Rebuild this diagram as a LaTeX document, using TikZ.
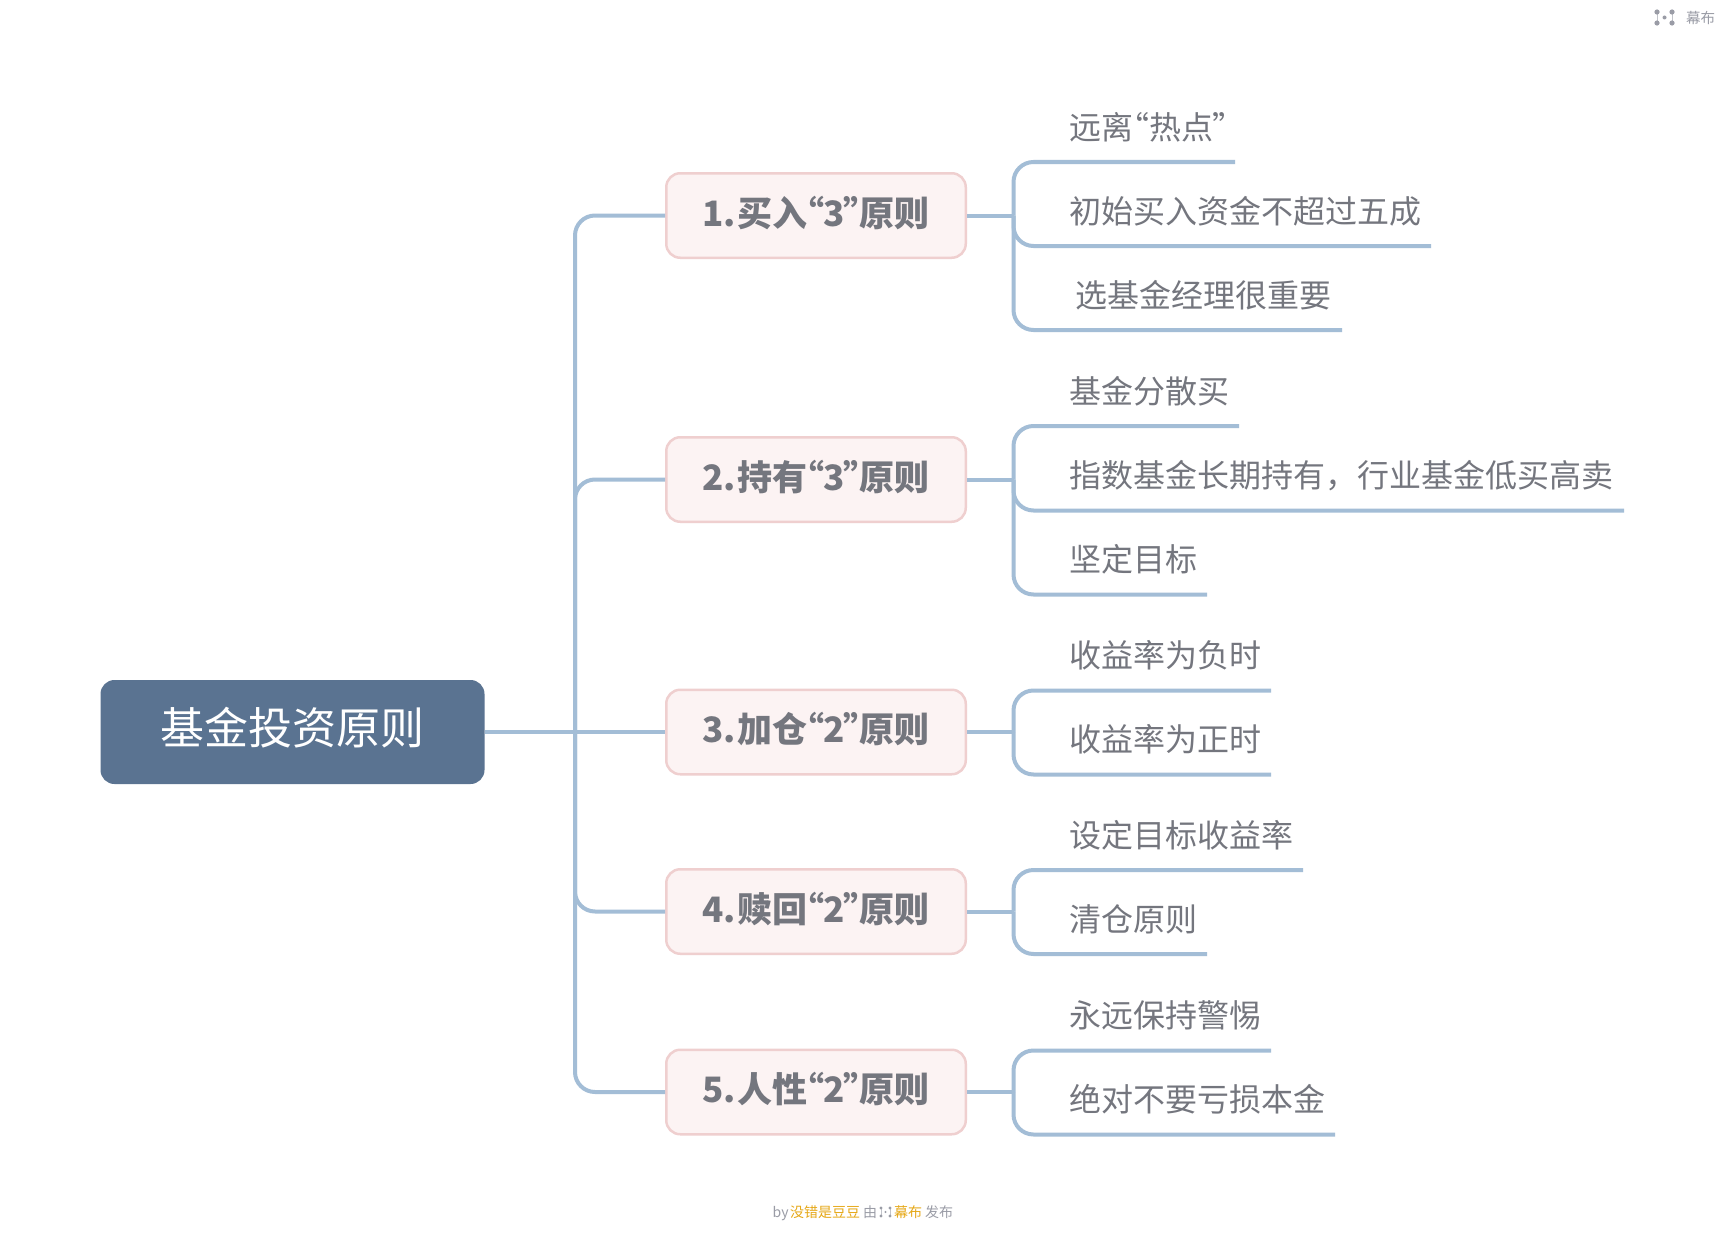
\documentclass[tikz,border=0pt]{standalone}
\usepackage{fontspec}
\setmainfont{Noto Sans CJK SC}
\newfontfamily\latinq[RawFeature=+palt]{Noto Sans CJK SC}
\newcommand{\qq}[1]{{\latinq “}#1{\latinq ”}}
\newcommand{\qk}[1]{{\latinq “}\hspace{-1.4pt}#1\hspace{-1.4pt}{\latinq ”}\hspace{-1.4pt}}
\newcommand{\numgap}{\hspace{1pt}}
\definecolor{linkc}{HTML}{A3BDD6}
\definecolor{boxf}{HTML}{FCF3F3}
\definecolor{boxd}{HTML}{EFCFCF}
\definecolor{rootf}{HTML}{5A7391}
\definecolor{txt}{HTML}{74767E}
\definecolor{boxt}{HTML}{74767E}
\definecolor{foot}{HTML}{9A9CA6}
\definecolor{org}{HTML}{E6A817}
\tikzset{
  x=1pt,y=-1pt,
  link/.style={draw=linkc,line width=4pt,rounded corners=20pt},
  rootbox/.style={fill=rootf,rounded corners=14pt,minimum width=384pt,inner sep=0pt,text=white,font=\fontsize{44}{44}\selectfont,text height=64pt,text depth=40pt},
  rule/.style={fill=boxf,draw=boxd,line width=2.5pt,rounded corners=14pt,minimum width=299.5pt,inner sep=0pt,text=boxt,font=\fontsize{35}{35}\selectfont\bfseries,text height=52.75pt,text depth=31.75pt},
  leaf/.style={anchor=base west,inner sep=0pt,text=txt,font=\fontsize{32}{32}\selectfont},
  small/.style={anchor=base west,inner sep=0pt,text=foot,font=\fontsize{14}{14}\selectfont},
  smallo/.style={small,text=org},
}
\begin{document}
\begin{tikzpicture}
\useasboundingbox (0,0) rectangle (1724,1236);
\fill[white] (0,0) rectangle (1724,1236);

% root and rules
\node[rootbox] (root) at (292.5,732) {基金投资原则};
\node[rule] (b1) at (816,215.5) {1.\numgap 买入\qk{3}原则};
\node[rule] (b2) at (816,479.5) {2.\numgap 持有\qk{3}原则};
\node[rule] (b3) at (816,732) {3.\numgap 加仓\qk{2}原则};
\node[rule] (b4) at (816,911.5) {4.\numgap 赎回\qk{2}原则};
\node[rule] (b5) at (816,1092) {5.\numgap 人性\qk{2}原则};

% trunk
\coordinate (trunk) at (575,732);
\draw[link] (root.east |- trunk) -- (b3.west);
\draw[link] (trunk) |- (b1.west);
\draw[link] (trunk) |- (b2.west);
\draw[link] (trunk) |- (b4.west);
\draw[link] (trunk) |- (b5.west);

% branch points
\coordinate (k1) at (1013.5,215.5);
\coordinate (k2) at (1013.5,479.5);
\coordinate (k3) at (1013.5,732);
\coordinate (k4) at (1013.5,911.5);
\coordinate (k5) at (1013.5,1092);
\foreach \i in {1,...,5} \draw[link] (b\i.east) -- (k\i);

% leaves
\node[leaf] (l11) at (1069,140) {远离\qq{热点}};
\node[leaf] (l12) at (1069,223) {初始买入资金不超过五成};
\node[leaf] (l13) at (1075,307) {选基金经理很重要};
\node[leaf] (l21) at (1069,403) {基金分散买};
\node[leaf] (l22) at (1069,487) {指数基金长期持有，行业基金低买高卖};
\node[leaf] (l23) at (1069,571) {坚定目标};
\node[leaf] (l31) at (1069,667) {收益率为负时};
\node[leaf] (l32) at (1069,751) {收益率为正时};
\node[leaf] (l41) at (1069,847) {设定目标收益率};
\node[leaf] (l42) at (1069,931) {清仓原则};
\node[leaf] (l51) at (1069,1027) {永远保持警惕};
\node[leaf] (l52) at (1069,1111) {绝对不要亏损本金};

\coordinate (e11) at (1235,162);
\coordinate (e12) at (1431,246);
\coordinate (e13) at (1342,330);
\coordinate (e21) at (1239,426);
\coordinate (e22) at (1624,510.5);
\coordinate (e23) at (1207,594.5);
\coordinate (e31) at (1271,690.5);
\coordinate (e32) at (1271,774.5);
\coordinate (e41) at (1303,870);
\coordinate (e42) at (1207,954);
\coordinate (e51) at (1271,1050.5);
\coordinate (e52) at (1335,1134.5);

\draw[link] (k1) |- (e11);
\draw[link] (k1) |- (e12);
\draw[link] (k1) |- (e13);
\draw[link] (k2) |- (e21);
\draw[link] (k2) |- (e22);
\draw[link] (k2) |- (e23);
\draw[link] (k3) |- (e31);
\draw[link] (k3) |- (e32);
\draw[link] (k4) |- (e41);
\draw[link] (k4) |- (e42);
\draw[link] (k5) |- (e51);
\draw[link] (k5) |- (e52);

% top-right mark
\draw[foot!60,line width=1pt] (1657,12) -- (1657,23) (1672,12) -- (1672,23);
\fill[foot] (1657,12) circle (2.6pt) (1657,23) circle (2.6pt) (1672,12) circle (2.6pt) (1672,23) circle (2.6pt) (1664.5,17.5) circle (2pt);
\node[small,font=\fontsize{14.5}{14.5}\selectfont] (mark) at (1686,24) {幕布};

% footer
\node[small] (by) at (772.5,1217) {by};
\node[smallo] (author) at (790,1217) {没错是豆豆};
\node[small] (you) at (863,1217) {由};
\draw[foot!60,line width=.7pt] (881,1208) -- (881,1216) (890,1208) -- (890,1216);
\fill[foot] (881,1208) circle (1.6pt) (881,1216) circle (1.6pt) (890,1208) circle (1.6pt) (890,1216) circle (1.6pt) (885.5,1212) circle (1.2pt);
\node[smallo] (brand) at (894,1217) {幕布};
\node[small] (pub) at (925,1217) {发布};
\end{tikzpicture}
\end{document}
